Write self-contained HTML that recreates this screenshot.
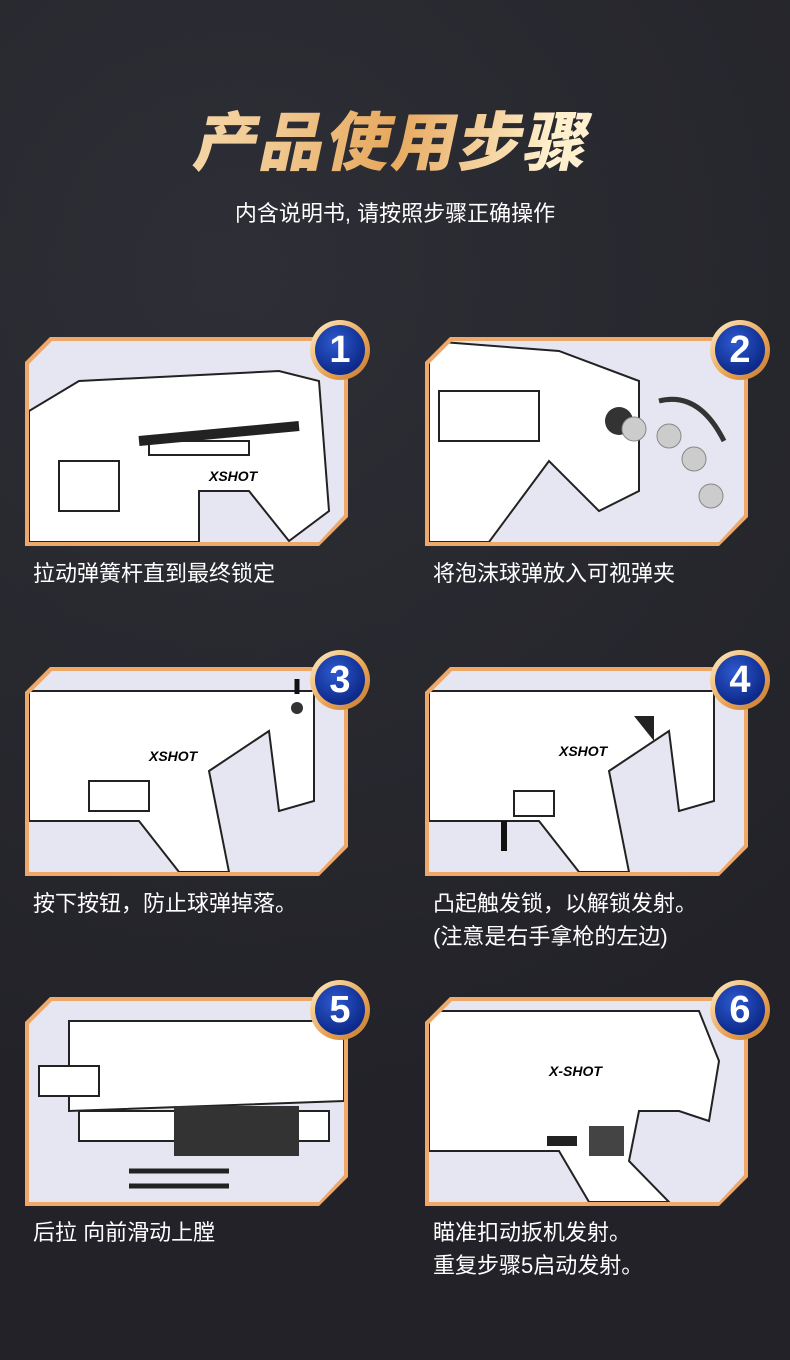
<!DOCTYPE html>
<html><head><meta charset="utf-8"><style>
body{margin:0;width:790px;height:1360px;overflow:hidden;background:#25252c;font-family:"Liberation Sans","Noto Sans CJK SC",sans-serif;position:relative;
background-image:radial-gradient(circle at 30% 20%,#2e2e36,#222228 70%);}
.t{position:absolute;left:0;width:790px;text-align:center;}
.title{top:92px;font-size:64px;font-weight:900;letter-spacing:2px;transform:skewX(-12deg);
background:linear-gradient(90deg,#fff4d8,#f0c890 35%,#e7a85e 50%,#fff0cc 70%,#f8f0e0);-webkit-background-clip:text;color:transparent;}
.sub{top:196px;font-size:22px;color:#fff;}
.p{position:absolute;width:323px;height:209px;background:#f0a868;clip-path:polygon(25px 0,100% 0,100% 180px,294px 100%,0 100%,0 25px);}
.p .in{position:absolute;left:4px;top:4px;right:4px;bottom:4px;background:#e6e6f2;clip-path:polygon(23px 0,100% 0,100% 174px,290px 100%,0 100%,0 23px);overflow:hidden;}
.b{position:absolute;width:60px;height:60px;border-radius:50%;background:linear-gradient(135deg,#fff0c8,#e8a050 60%,#c07a30);}
.b div{position:absolute;left:5px;top:5px;width:50px;height:50px;border-radius:50%;background:radial-gradient(circle at 40% 35%,#2e5ad0,#0d2a8a 70%);color:#fff;font:bold 38px/50px "Liberation Sans",sans-serif;text-align:center;}
.c{position:absolute;color:#fff;font-size:22px;line-height:33px;}
svg{position:absolute;left:0;top:0}
</style></head><body>
<div class="t title">产品使用步骤</div>
<div class="t sub">内含说明书, 请按照步骤正确操作</div>

<div class="p" style="left:25px;top:337px"><div class="in"><svg width="315" height="201"><g fill="#fff" stroke="#222" stroke-width="2"><path d="M0 70 L50 40 L250 30 L290 40 L300 170 L260 200 L220 150 L170 150 L170 201 L0 201Z"/><rect x="30" y="120" width="60" height="50"/><rect x="120" y="100" width="100" height="14"/></g><path d="M110 100 L270 85" stroke="#222" stroke-width="10"/><text x="180" y="140" font-size="14" font-weight="bold" font-style="italic">XSHOT</text></svg></div></div>
<div class="p" style="left:425px;top:337px"><div class="in"><svg width="315" height="201"><g fill="#fff" stroke="#222" stroke-width="2"><path d="M0 0 L130 10 L210 40 L210 150 L170 170 L120 120 L60 201 L0 201Z"/><rect x="10" y="50" width="100" height="50"/></g><circle cx="190" cy="80" r="14" fill="#333"/><g fill="#ccc" stroke="#888"><circle cx="205" cy="88" r="12"/><circle cx="240" cy="95" r="12"/><circle cx="265" cy="118" r="12"/><circle cx="282" cy="155" r="12"/></g><path d="M230 60 Q270 50 295 100" stroke="#333" stroke-width="5" fill="none"/></svg></div></div>
<div class="p" style="left:25px;top:667px"><div class="in"><svg width="315" height="201"><g fill="#fff" stroke="#222" stroke-width="2"><path d="M0 20 L285 20 L285 130 L250 140 L240 60 L180 100 L200 201 L150 201 L110 150 L0 150Z"/><rect x="60" y="110" width="60" height="30"/></g><text x="120" y="90" font-size="14" font-weight="bold" font-style="italic">XSHOT</text><circle cx="268" cy="37" r="6" fill="#333"/><path d="M268 8 v15" stroke="#111" stroke-width="5"/></svg></div></div>
<div class="p" style="left:425px;top:667px"><div class="in"><svg width="315" height="201"><g fill="#fff" stroke="#222" stroke-width="2"><path d="M0 20 L285 20 L285 130 L250 140 L240 60 L180 100 L200 201 L150 201 L110 150 L0 150Z"/><rect x="85" y="120" width="40" height="25"/></g><text x="130" y="85" font-size="14" font-weight="bold" font-style="italic">XSHOT</text><path d="M75 180 v-30" stroke="#111" stroke-width="6"/><path d="M205 45 l20 0 l0 25z" fill="#222"/></svg></div></div>
<div class="p" style="left:25px;top:997px"><div class="in"><svg width="315" height="201"><g fill="#fff" stroke="#222" stroke-width="2"><path d="M40 20 L315 20 L315 100 L40 110Z"/><rect x="10" y="65" width="60" height="30"/><rect x="50" y="110" width="250" height="30"/></g><rect x="145" y="105" width="125" height="50" fill="#333"/><path d="M100 170 h100 M100 185 h100" stroke="#222" stroke-width="5"/></svg></div></div>
<div class="p" style="left:425px;top:997px"><div class="in"><svg width="315" height="201"><g fill="#fff" stroke="#222" stroke-width="2"><path d="M0 10 L270 10 L290 60 L280 120 L250 110 L210 110 L200 160 L240 201 L160 201 L130 150 L0 150Z"/></g><text x="120" y="75" font-size="14" font-weight="bold" font-style="italic">X-SHOT</text><rect x="160" y="125" width="35" height="30" fill="#444"/><path d="M118 140 h30" stroke="#222" stroke-width="10"/></svg></div></div>

<div class="b" style="left:310px;top:320px"><div>1</div></div>
<div class="b" style="left:710px;top:320px"><div>2</div></div>
<div class="b" style="left:310px;top:650px"><div>3</div></div>
<div class="b" style="left:710px;top:650px"><div>4</div></div>
<div class="b" style="left:310px;top:980px"><div>5</div></div>
<div class="b" style="left:710px;top:980px"><div>6</div></div>

<div class="c" style="left:33px;top:557px">拉动弹簧杆直到最终锁定</div>
<div class="c" style="left:433px;top:557px">将泡沫球弹放入可视弹夹</div>
<div class="c" style="left:33px;top:887px">按下按钮，防止球弹掉落。</div>
<div class="c" style="left:433px;top:887px">凸起触发锁，以解锁发射。<br>(注意是右手拿枪的左边)</div>
<div class="c" style="left:33px;top:1216px">后拉 向前滑动上膛</div>
<div class="c" style="left:433px;top:1216px">瞄准扣动扳机发射。<br>重复步骤5启动发射。</div>
</body></html>
